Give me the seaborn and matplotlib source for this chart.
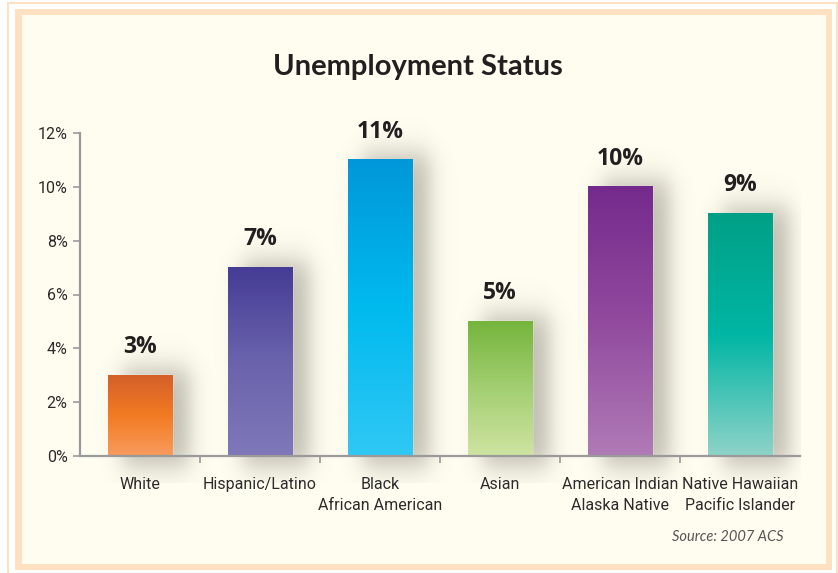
import numpy as np
import pandas as pd
import matplotlib
matplotlib.use("Agg")
import matplotlib.pyplot as plt
import seaborn as sns
from matplotlib.colors import LinearSegmentedColormap
from matplotlib.patches import Rectangle

# ---- data ----
categories = ["White", "Hispanic/Latino", "Black\nAfrican American", "Asian",
              "American Indian\nAlaska Native", "Native Hawaiian\nPacific Islander"]
values = [3, 7, 11, 5, 10, 9]
value_labels = ["3%", "7%", "11%", "5%", "10%", "9%"]
y_ticks = [0, 2, 4, 6, 8, 10, 12]
y_tick_labels = ["0%", "2%", "4%", "6%", "8%", "10%", "12%"]
title = "Unemployment Status"
source = "Source: 2007 ACS"

top_colors = ["#D45F2A", "#453C95", "#0097D9", "#75B53C", "#742A8C", "#00A086"]
mid_colors = ["#F27B22", "#6A63AC", "#00BAEE", "#A3CF72", "#914A9E", "#00B6A4"]
bottom_colors = ["#F89B5E", "#7F78B9", "#30C8F5", "#CFE4A2", "#B07BB6", "#8FD3C8"]

W, H = 838, 573
CREAM = "#FFFDF0"
PEACH = "#FFE0C0"

sns.set_theme(style="white")
plt.rcParams['font.family'] = ['Roboto', 'DejaVu Sans']

fig = plt.figure(figsize=(W / 100, H / 100), dpi=100, facecolor="white")


def px_rect(x0, y0, x1, y1, color):
    fig.patches.append(Rectangle((x0 / W, 1 - y1 / H), (x1 - x0) / W, (y1 - y0) / H,
                                 transform=fig.transFigure, facecolor=color,
                                 edgecolor="none", zorder=-10))


# frame
px_rect(7, 2, 840, 580, PEACH)
px_rect(9, 4, 836, 580, "white")
px_rect(15, 9, 832, 570, PEACH)
px_rect(22, 15, 826, 564, CREAM)

ax = fig.add_axes([80 / W, (H - 456) / H, 720 / W, 323 / H])
ax.set_zorder(1)
ax.set_facecolor("none")

df = pd.DataFrame({"category": categories, "value": values})
sns.barplot(data=df, x="category", y="value", hue="category", palette=mid_colors,
            legend=False, width=0.54, saturation=1, ax=ax, zorder=3)

ax.set_xlim(-0.5, 5.5)
ax.set_ylim(0, 12)

# gradients and shadows based on bar geometry
xx = np.linspace(-0.5, 5.5, 900)
yy = np.linspace(-1.0, 13.0, 500)
X, Y = np.meshgrid(xx, yy)
shadow = np.zeros_like(X)


def sig(z):
    return 1.0 / (1.0 + np.exp(-z))


for i, p in enumerate(ax.patches):
    x0, w, h = p.get_x(), p.get_width(), p.get_height()
    cmap = LinearSegmentedColormap.from_list(
        f"g{i}", [(0, bottom_colors[i]), (0.5, mid_colors[i]), (1, top_colors[i])])
    grad = np.linspace(0, 1, 256).reshape(-1, 1)
    ax.imshow(grad, cmap=cmap, origin="lower", aspect="auto",
              extent=[x0, x0 + w, 0, h], zorder=4, interpolation="bicubic")
    # blurred shadow offset to the right
    sx = 0.05
    sy = 0.3
    fx = sig((X - (x0 + 0.12)) / sx) - sig((X - (x0 + w + 0.14)) / sx)
    fy = sig((Y - (-0.4)) / sy) - sig((Y - (h + 0.25)) / sy)
    shadow = np.maximum(shadow, fx * fy)

rgba = np.zeros(shadow.shape + (4,))
rgba[..., 0] = 0.42
rgba[..., 1] = 0.41
rgba[..., 2] = 0.36
rgba[..., 3] = shadow * 0.42
ax.imshow(rgba, origin="lower", aspect="auto", extent=[-0.5, 5.5, -1.0, 13.0],
          zorder=2, clip_on=False, interpolation="bilinear")
ax.set_xlim(-0.5, 5.5)
ax.set_ylim(0, 12)

# value labels
for i, v in enumerate(values):
    ax.text(i, v + 1.05, value_labels[i], ha="center", va="center",
            fontsize=16.5, fontweight="bold", family=["Open Sans", "DejaVu Sans"],
            color="#231F20", zorder=6, clip_on=False)

# axes styling
for s in ["top", "right"]:
    ax.spines[s].set_visible(False)
for s in ["left", "bottom"]:
    ax.spines[s].set_color("#9A9A9A")
    ax.spines[s].set_linewidth(1.6)
    ax.spines[s].set_zorder(5)

ax.set_yticks(y_ticks)
ax.set_yticklabels(y_tick_labels)
ax.set_xticks(range(len(categories)))
ax.set_xticklabels(categories)
ax.set_xticks([0.5, 1.5, 2.5, 3.5, 4.5], minor=True)
ax.tick_params(axis="y", which="major", direction="out", length=5, width=1.2,
               color="#9A9A9A", labelsize=11.5, labelcolor="#2B2B2B", pad=4, left=True)
ax.tick_params(axis="x", which="major", length=0, labelsize=11.5,
               labelcolor="#2B2B2B", pad=15)
ax.tick_params(axis="x", which="minor", direction="out", length=5, width=1.2,
               color="#9A9A9A", bottom=True)
for lab in ax.get_xticklabels():
    lab.set_linespacing(1.55)
ax.set_xlabel("")
ax.set_ylabel("")

fig.text(417.5 / W, 1 - 67 / H, title, ha="center", va="center", fontsize=21,
         fontweight="bold", family=["Lato", "DejaVu Sans"], color="#231F20")
fig.text(783 / W, 1 - 537 / H, source, ha="right", va="center", fontsize=10.5,
         style="italic", family=["Lato", "DejaVu Sans"], color="#555555")

fig.savefig("out.png", dpi=100, facecolor="white")
